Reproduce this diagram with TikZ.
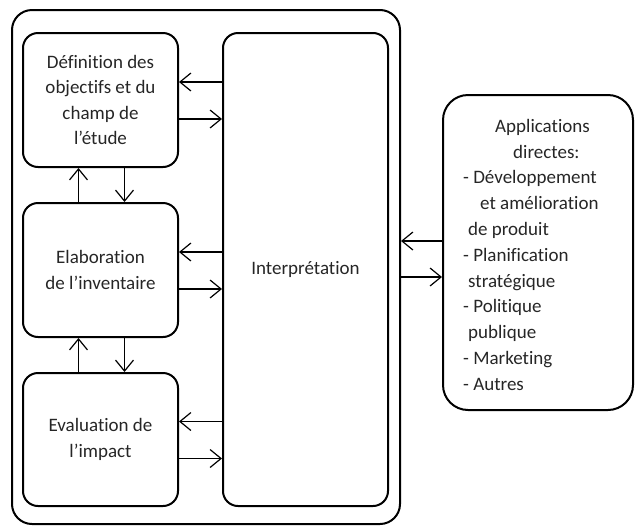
\documentclass[tikz,border=0pt]{standalone}
\usepackage{fontspec}
\setmainfont{Carlito}[Ligatures=NoCommon]
\usetikzlibrary{arrows.meta,calc}
\begin{document}
\begin{tikzpicture}[x=1pt,y=-1pt,
  box/.style={draw, line width=2pt, rounded corners=15pt, align=center,
    inner sep=0pt, text=black!85, font=\fontsize{19}{25.5}\selectfont},
  arr/.style={line width=1.2pt, -{Straight Barb[length=11pt,width=18pt,line width=1.2pt]}}]
\useasboundingbox (0,0) rectangle (635,528);
% outer frame around the four stages
\node[box, rounded corners=20pt, minimum width=388pt, minimum height=514pt] (outer) at (206,267) {};
% stages
\node[box, minimum width=155pt, minimum height=134pt] (def) at (100.5,100)
  {Définition des\\objectifs et du\\champ de\\l’étude};
\node[box, minimum width=155pt, minimum height=134pt] (inv) at (100.5,270)
  {Elaboration\\de l’inventaire};
\node[box, minimum width=155pt, minimum height=133pt] (imp) at (100.5,439.5)
  {Evaluation de\\l’impact};
\node[box, minimum width=165pt, minimum height=473pt] (interp) at (305.5,269.5)
  {Interprétation};
% applications
\node[box, rounded corners=25pt, minimum width=190pt, minimum height=315pt] (app) at (538,252.5) {};
\node[text=black!85, font=\fontsize{19}{25.8}\selectfont, align=left, anchor=north west, inner sep=0pt] (applist) at (463,119)
  {\hspace*{32pt}Applications\\\hspace*{50pt}directes:\\- Développement\\\hspace*{17pt}et amélioration\\\hspace*{5pt}de produit\\- Planification\\\hspace*{5pt}stratégique\\- Politique\\\hspace*{5pt}publique\\- Marketing\\- Autres};
% exchanges between stages and interpretation
\foreach \n in {def,inv,imp}{
  \draw[arr] ([yshift=18pt]\n.east -| interp.west) -- ([yshift=18pt]\n.east);
  \draw[arr] ([yshift=-19pt]\n.east) -- ([yshift=-19pt]\n.east -| interp.west);
}
% exchanges between successive stages
\draw[arr] ([xshift=-22pt]inv.north) -- ([xshift=-22pt]def.south);
\draw[arr] ([xshift=24pt]def.south) -- ([xshift=24pt]inv.north);
\draw[arr] ([xshift=-22pt]imp.north) -- ([xshift=-22pt]inv.south);
\draw[arr] ([xshift=24pt]inv.south) -- ([xshift=24pt]imp.north);
% exchanges with applications
\draw[arr] ([yshift=11.5pt]app.west) -- ([yshift=11.5pt]app.west -| outer.east);
\draw[arr] ([yshift=-24.5pt]app.west -| outer.east) -- ([yshift=-24.5pt]app.west);
\end{tikzpicture}
\end{document}
